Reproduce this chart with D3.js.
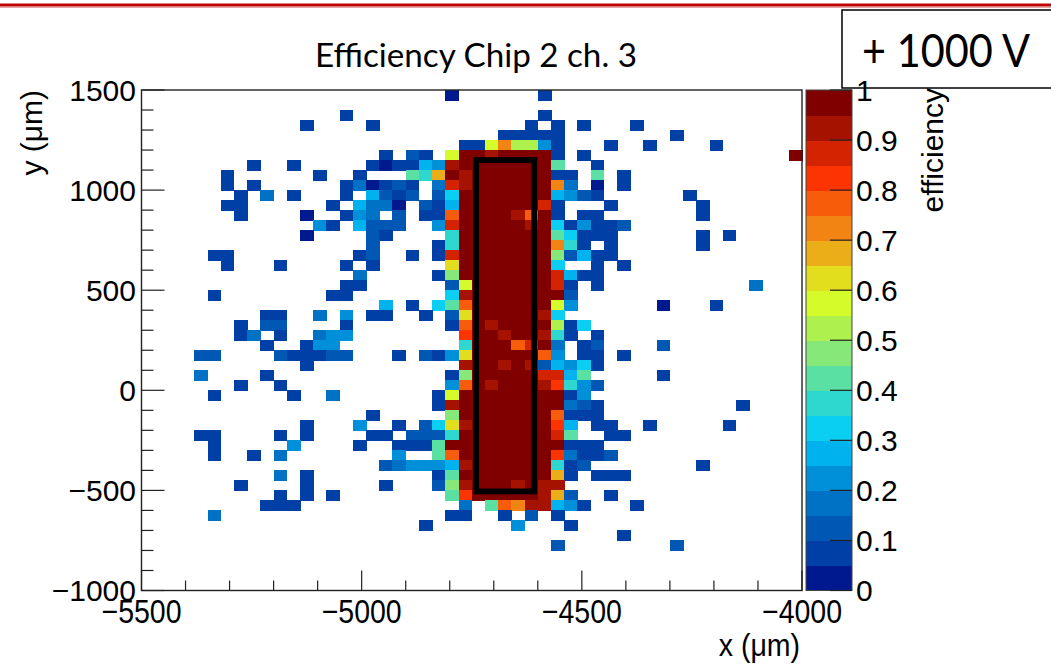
<!DOCTYPE html>
<html>
<head>
<meta charset="utf-8">
<script src="https://cdn.jsdelivr.net/npm/d3@7"></script>
<style>
  html, body { margin: 0; padding: 0; background: #fff; }
  text { font-family: "Liberation Sans", Arial, Helvetica, sans-serif; fill: #000; }
  .slide { font-family: Lato, "Open Sans", "Liberation Sans", sans-serif; }
</style>
</head>
<body>
<svg id="chart" width="1051" height="666"></svg>
<script>
// Histogram binning (x: 30 um bins, y: 50 um bins)
const xRange = [-5500, -4000];
const yRange = [-1000, 1500];
const nBinsX = 50;
const nBinsY = 50;

// Axis ticks
const xMajorTicks = [-5500, -5000, -4500, -4000];
const yMajorTicks = [-1000, -500, 0, 500, 1000, 1500];
const zTicks = [0, 0.1, 0.2, 0.3, 0.4, 0.5, 0.6, 0.7, 0.8, 0.9, 1];

// 20-step colour palette for the efficiency axis (0 -> 1)
const levelColors = [
  "#00198f", "#0040a6", "#0058b4", "#0072c6", "#008fd9",
  "#00b2ee", "#0bcff2", "#2fd8cf", "#5ae0a2", "#86e878",
  "#aef04e", "#d6fb2a", "#e2de1d", "#ebae18", "#f18412",
  "#f75c0a", "#fb3402", "#d42300", "#a51200", "#800000"
];

// Efficiency per bin, one string per y row from the top (y = 1500) down.
// Each character is an efficiency step: '.' empty, '0'-'9' and 'a'-'j' = steps 0..19 of 0.05.
const efficiencyRows = [
  ".......... .......... ...0...... 1......... ..........",
  ".......... .......... .......... .......... ..........",
  ".......... .....1.... .......... 1......... ..........",
  ".......... ..1....1.. .........1 .1.1...1.. ..........",
  ".......... .......... .......111 11........ 1.........",
  ".......... .......... ....11beaa 41...1..1. ...1......",
  ".......... ........1. 21.bjjijjj j1.1...... .........j",
  "........1. .1.....101 154ijjjjjj j8..1..... ..........",
  "......1... ...1..1... 87djijjjjj j11.8.1... ..........",
  "......1.1. .....13012 1.3hijjjjj je3.0.1... ..........",
  ".......1.3 .1...1.521 2.26jjjjjj j5421..... .1........",
  "......11.. ....1.5330 .215jjjjjj h1...1.... ..1.......",
  ".......1.. ..0..143.2 .11fjjjjif j1.11..... ..1.......",
  ".......... ...41.5222 ..4hjjjjji j614112... ..........",
  ".......... ..0....21. ...7jjjjjj j86111.... ..1.1.....",
  ".......... .......2.. ..17jjjjjj je71.1.... ..1.......",
  ".....11... ......12.. 1.1hjjjjjj j92511.... ..........",
  "......1... 1....1.1.. ...cjjjjjj j6..1.1... ..........",
  ".......... ......3... ..19jjjjjj jh511..... ..........",
  ".......... .....11... ...2bjjjjj jh1.1..... ......3...",
  ".....1.... ....11.... ...6ijjjjj jj2....... ..........",
  ".......... ........5. 1.68fjjjjj jb4......0 ...1......",
  ".........1 1..3.4.11. .1.2cjjjjj i6........ ..........",
  ".......1.2 2....1.... ...1fjijjj ja16...... ..........",
  ".......13. 1..344.... ....gjjijj i71.1..... ..........",
  ".........1 ..144..... ....7jjjfh j3.12....2 ..........",
  "....22.... 211122...1 .214cjjjjj f4.11.1... ..........",
  ".......... ..1....... ....ijjiji 25461..... ..........",
  "....3....1 .......... ...19jjjjj hh58.....1 ..........",
  ".......1.. 1......... ...4fjijjj ig742..... ..........",
  ".....1.... .1..3..... ..1bjjjjjj jj14...... ..........",
  ".......... .......... ..1ijjjjjj jj321..... .....1....",
  ".......... .......1.. ...9jjjjjj jf111..... ..........",
  ".......... ..1...4..1 .26cijjjjj jg5.11..1. ....1.....",
  "....11.... 1.1....11. 2227jjjjjj jh8..11... ..........",
  ".....1.... .4....1..1 118jjjjjjj jj111..... ..........",
  ".....1..1. 3........4 ..8fjjjjjj jg3112.... ..........",
  ".......... ........23 4445ijjjjj j712...... ..1.......",
  ".......... 3.1....... ..18jjjjjj jd1.111... ..........",
  ".......1.. ..1.....1. ..29ijjjij ii........ ..........",
  ".......... 1.1.1..... ...8gjjjjj id2..1.... ..........",
  ".........1 11........ ....3.8fei i541...1.. ..........",
  ".....3.... .......... ...11..1.2 .1........ ..........",
  ".......... .......... .1......4. ..1....... ..........",
  ".......... .......... .......... ......1... ..........",
  ".......... .......... .......... .2........ 2.........",
  ".......... .......... .......... .......... ..........",
  ".......... .......... .......... .......... ..........",
  ".......... .......... .......... .......... ..........",
  ".......... .......... .......... .......... .........."
];

// Outline of the sensor region (um)
const sensorX = [-4740, -4608];
const sensorY = [-505, 1150];

const titleText = "Efficiency Chip 2 ch. 3";
const voltageText = "+ 1000 V";

// ---------------------------------------------------------------
const svg = d3.select("#chart");
const frame = { left: 141.5, right: 802, top: 90, bottom: 590.5 };

const x = d3.scaleLinear().domain(xRange).range([frame.left, frame.right]);
const y = d3.scaleLinear().domain(yRange).range([frame.bottom, frame.top]);
const z = d3.scaleQuantize().domain([0, 1]).range(levelColors);

const binW = (xRange[1] - xRange[0]) / nBinsX;
const binH = (yRange[1] - yRange[0]) / nBinsY;

function stepOf(ch) {
  if (ch >= "0" && ch <= "9") return +ch;
  return ch.charCodeAt(0) - 97 + 10;
}

const cells = [];
efficiencyRows.forEach((row, r) => {
  const chars = row.replace(/ /g, "");
  const yHigh = yRange[1] - r * binH;
  for (let c = 0; c < chars.length; c++) {
    const ch = chars[c];
    if (ch === ".") continue;
    cells.push({
      x0: xRange[0] + c * binW,
      y0: yHigh - binH,
      eff: (stepOf(ch) + 0.5) / 20
    });
  }
});

// top slide rule
svg.append("line")
  .attr("x1", 0).attr("x2", 1051).attr("y1", 5).attr("y2", 5)
  .attr("stroke", "#c00000").attr("stroke-width", 3);
svg.append("line")
  .attr("x1", 0).attr("x2", 1051).attr("y1", 7.5).attr("y2", 7.5)
  .attr("stroke", "#e8a0a0").attr("stroke-width", 1);

// bins
svg.append("g")
  .attr("shape-rendering", "crispEdges")
  .selectAll("rect")
  .data(cells)
  .join("rect")
  .attr("x", d => x(d.x0))
  .attr("y", d => y(d.y0 + binH))
  .attr("width", d => x(d.x0 + binW) - x(d.x0) + 0.5)
  .attr("height", d => y(d.y0) - y(d.y0 + binH) + 0.5)
  .attr("fill", d => z(d.eff));

// sensor outline
svg.append("rect")
  .attr("x", x(sensorX[0]))
  .attr("y", y(sensorY[1]))
  .attr("width", x(sensorX[1]) - x(sensorX[0]))
  .attr("height", y(sensorY[0]) - y(sensorY[1]))
  .attr("fill", "none")
  .attr("stroke", "#000")
  .attr("stroke-width", 5.8);

// frame
svg.append("rect")
  .attr("x", frame.left).attr("y", frame.top)
  .attr("width", frame.right - frame.left)
  .attr("height", frame.bottom - frame.top)
  .attr("fill", "none").attr("stroke", "#222").attr("stroke-width", 1.4);

const fmt = v => (v < 0 ? "\u2212" + Math.abs(v) : String(v));

// x axis ticks (minor every 100 um)
const xMinor = d3.range(xRange[0], xRange[1] + 1, 100);
svg.append("g").selectAll("line").data(xMinor).join("line")
  .attr("x1", d => x(d)).attr("x2", d => x(d))
  .attr("y1", frame.bottom)
  .attr("y2", d => frame.bottom - (xMajorTicks.includes(d) ? 20 : 10))
  .attr("stroke", "#222").attr("stroke-width", 1.2);
svg.append("g").selectAll("text").data(xMajorTicks).join("text")
  .attr("transform", d => `translate(${x(d)},623) scale(0.95,1.12)`)
  .attr("text-anchor", "middle")
  .attr("font-size", 30)
  .text(fmt);

// y axis ticks
const yMinor = d3.range(yRange[0], yRange[1] + 1, 100);
svg.append("g").selectAll("line").data(yMinor).join("line")
  .attr("y1", d => y(d)).attr("y2", d => y(d))
  .attr("x1", frame.left)
  .attr("x2", d => frame.left + (yMajorTicks.includes(d) ? 23 : 12))
  .attr("stroke", "#222").attr("stroke-width", 1.2);
svg.append("g").selectAll("text").data(yMajorTicks).join("text")
  .attr("x", 136).attr("y", d => y(d))
  .attr("dy", "0.36em")
  .attr("text-anchor", "end")
  .attr("font-size", 30)
  .text(fmt);

// axis titles
svg.append("text")
  .attr("transform", "translate(800,656) scale(0.95,1.05)")
  .attr("text-anchor", "end")
  .attr("font-size", 30)
  .text("x (\u03bcm)");
svg.append("text")
  .attr("transform", "translate(42,90) rotate(-90)")
  .attr("text-anchor", "end")
  .attr("font-size", 30)
  .text("y (\u03bcm)");

// colour bar
const bar = { left: 806, right: 852 };
const zy = d3.scaleLinear().domain([0, 1]).range([frame.bottom, frame.top]);
const levels = d3.range(levelColors.length);
svg.append("g").attr("shape-rendering", "crispEdges")
  .selectAll("rect").data(levels).join("rect")
  .attr("x", bar.left)
  .attr("y", i => zy((i + 1) / 20))
  .attr("width", bar.right - bar.left)
  .attr("height", i => zy(i / 20) - zy((i + 1) / 20) + 0.5)
  .attr("fill", i => levelColors[i]);
svg.append("rect")
  .attr("x", bar.left).attr("y", frame.top)
  .attr("width", bar.right - bar.left).attr("height", frame.bottom - frame.top)
  .attr("fill", "none").attr("stroke", "#444").attr("stroke-width", 1);
svg.append("g").selectAll("line").data(zTicks).join("line")
  .attr("x1", bar.right - 22).attr("x2", bar.right)
  .attr("y1", d => zy(d)).attr("y2", d => zy(d))
  .attr("stroke", "#222").attr("stroke-width", 1.2);

// voltage box (drawn under the colour-bar labels)
svg.append("rect")
  .attr("x", 842).attr("y", 10).attr("width", 230).attr("height", 78)
  .attr("fill", "#fff").attr("stroke", "#000").attr("stroke-width", 1.5);
svg.append("text")
  .attr("class", "slide")
  .attr("x", 862).attr("y", 67)
  .attr("font-size", 47)
  .attr("textLength", 168).attr("lengthAdjust", "spacingAndGlyphs")
  .text(voltageText);

svg.append("g").selectAll("text").data(zTicks).join("text")
  .attr("x", 856).attr("y", d => zy(d))
  .attr("dy", "0.36em")
  .attr("font-size", 30)
  .text(d => String(+d.toFixed(1)));
svg.append("text")
  .attr("transform", "translate(943,88) rotate(-90)")
  .attr("text-anchor", "end")
  .attr("font-size", 30)
  .text("efficiency");

// title
svg.append("text")
  .attr("class", "slide")
  .attr("x", 315).attr("y", 67)
  .attr("font-size", 33)
  .attr("textLength", 322).attr("lengthAdjust", "spacingAndGlyphs")
  .text(titleText);
</script>
</body>
</html>
